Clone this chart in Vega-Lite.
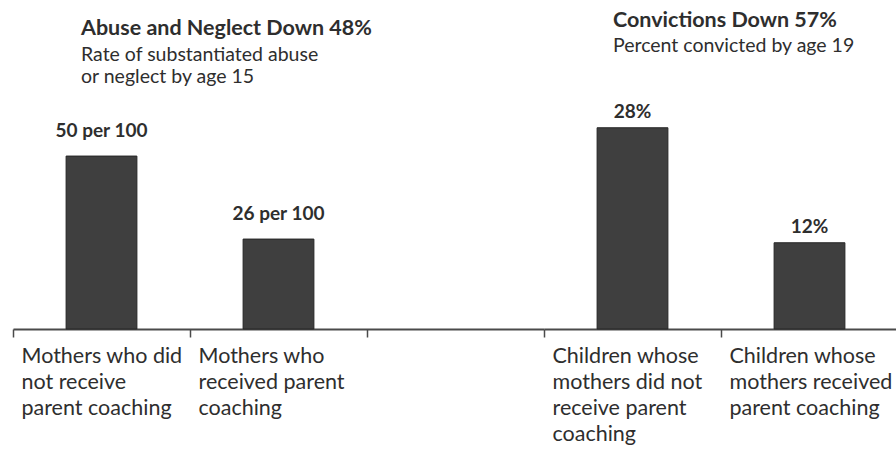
{
  "$schema": "https://vega.github.io/schema/vega-lite/v6.json",
  "padding": {"left": 12, "top": 10, "right": 0, "bottom": 0},
  "background": "white",
  "spacing": 0,
  "bounds": "flush",
  "config": {
    "view": {"stroke": null},
    "font": "Lato",
    "text": {"color": "#2e2e2e"},
    "title": {"color": "#2e2e2e", "subtitleColor": "#2e2e2e", "font": "Lato", "subtitleFont": "Lato"},
    "axisX": {
      "domainColor": "#4a4a4a",
      "domainWidth": 2,
      "tickColor": "#4a4a4a",
      "tickWidth": 1.5,
      "tickSize": 8,
      "bandPosition": 0,
      "labelAlign": "left",
      "labelAngle": 0,
      "labelOffset": -80,
      "labelPadding": 8,
      "labelFontSize": 21.5,
      "labelLineHeight": 26,
      "labelColor": "#2e2e2e",
      "labelFont": "Lato",
      "labelExpr": "split(datum.label, '|')",
      "labelLimit": 0,
      "labelOverlap": false,
      "labelFlush": false,
      "title": null,
      "grid": false
    }
  },
  "datasets": {
    "abuse": [
      {"group": "Mothers who did|not receive|parent coaching", "value": 50, "label": "50 per 100"},
      {"group": "Mothers who|received parent|coaching", "value": 26, "label": "26 per 100"}
    ],
    "convictions": [
      {"group": "Children whose|mothers did not|receive parent|coaching", "value": 28, "label": "28%"},
      {"group": "Children whose|mothers received|parent coaching", "value": 12, "label": "12%"}
    ]
  },
  "hconcat": [
    {
      "width": 531,
      "height": 230,
      "title": {
        "text": "Abuse and Neglect Down 48%",
        "subtitle": ["Rate of substantiated abuse", "or neglect by age 15"],
        "anchor": "start",
        "frame": "group",
        "dx": 68,
        "offset": 13,
        "fontSize": 21.5,
        "fontWeight": "bold",
        "subtitleFontSize": 19.5,
        "subtitleLineHeight": 22,
        "subtitlePadding": 6
      },
      "data": {"name": "abuse"},
      "encoding": {
        "x": {
          "field": "group",
          "type": "nominal",
          "sort": null,
          "scale": {
            "domain": ["Mothers who did|not receive|parent coaching", "Mothers who|received parent|coaching", ""],
            "paddingInner": 0,
            "paddingOuter": 0
          }
        },
        "y": {
          "field": "value",
          "type": "quantitative",
          "scale": {"domain": [0, 66.5], "nice": false},
          "axis": null
        }
      },
      "layer": [
        {"mark": {"type": "bar", "width": {"band": 0.4}, "color": "#3f3f3f", "stroke": "#262626", "strokeWidth": 1}},
        {"mark": {"type": "text", "baseline": "bottom", "dy": -15, "fontSize": 19, "fontWeight": "bold"}, "encoding": {"text": {"field": "label"}}}
      ]
    },
    {
      "width": 354,
      "height": 230,
      "title": {
        "text": "Convictions Down 57%",
        "subtitle": "Percent convicted by age 19",
        "anchor": "start",
        "frame": "group",
        "dx": 69,
        "offset": 44,
        "fontSize": 21.5,
        "fontWeight": "bold",
        "subtitleFontSize": 19.5,
        "subtitlePadding": 5
      },
      "data": {"name": "convictions"},
      "encoding": {
        "x": {
          "field": "group",
          "type": "nominal",
          "sort": null,
          "scale": {"paddingInner": 0, "paddingOuter": 0}
        },
        "y": {
          "field": "value",
          "type": "quantitative",
          "scale": {"domain": [0, 32], "nice": false},
          "axis": null
        }
      },
      "layer": [
        {"mark": {"type": "bar", "width": {"band": 0.4}, "color": "#3f3f3f", "stroke": "#262626", "strokeWidth": 1}},
        {"mark": {"type": "text", "baseline": "bottom", "dy": -6, "fontSize": 19, "fontWeight": "bold"}, "encoding": {"text": {"field": "label"}}}
      ]
    }
  ]
}
